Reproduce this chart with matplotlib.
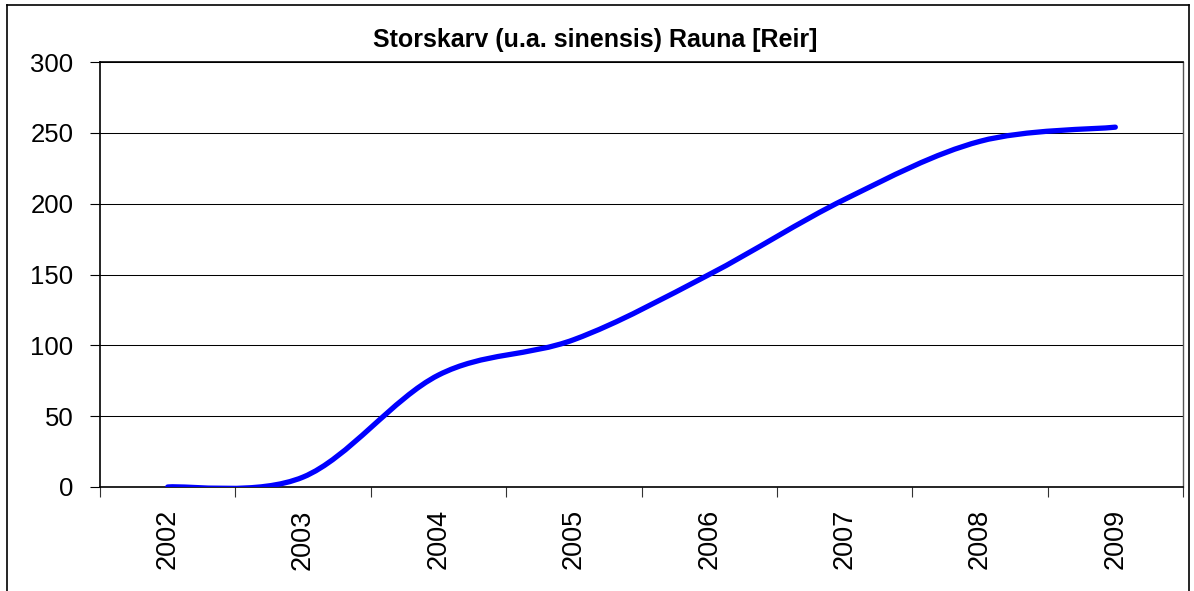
import matplotlib
matplotlib.use("Agg")
import matplotlib.pyplot as plt
from matplotlib.path import Path
from matplotlib.patches import PathPatch
from matplotlib.lines import Line2D
import numpy as np

years = ["2002", "2003", "2004", "2005", "2006", "2007", "2008", "2009"]
values = [0, 7, 79, 104, 150, 203, 244, 254]
yticks = [0, 50, 100, 150, 200, 250, 300]
title = "Storskarv (u.a. sinensis) Rauna [Reir]"

plt.rcParams['font.family'] = ['Liberation Sans', 'DejaVu Sans']

W, H = 1194, 591
fig = plt.figure(figsize=(W / 100, H / 100), dpi=100)
ax = fig.add_axes([100 / W, (H - 487) / H, 1083 / W, 425 / H])

# Excel-like smoothed line (Catmull-Rom as cubic Bezier)
xs = list(range(len(values)))
pts = list(zip(xs, values))
ext = [pts[0]] + pts + [pts[-1]]
verts = [pts[0]]
codes = [Path.MOVETO]
for i in range(len(pts) - 1):
    p0, p1, p2, p3 = ext[i], ext[i + 1], ext[i + 2], ext[i + 3]
    c1 = (p1[0] + (p2[0] - p0[0]) / 6, p1[1] + (p2[1] - p0[1]) / 6)
    c2 = (p2[0] - (p3[0] - p1[0]) / 6, p2[1] - (p3[1] - p1[1]) / 6)
    verts += [c1, c2, p2]
    codes += [Path.CURVE4] * 3
ax.add_patch(PathPatch(Path(verts, codes), facecolor='none', edgecolor='#0000FF',
                       lw=3.8, capstyle='round', joinstyle='round', zorder=3))

ax.set_xlim(-0.5, len(years) - 0.5)
ax.set_ylim(0, 300)

ax.set_yticks(yticks)
ax.set_yticklabels([str(v) for v in yticks], fontsize=18.5)
ax.tick_params(axis='y', direction='out', length=7.2, width=0.8, pad=12, colors='black')

bounds = np.arange(-0.5, len(years), 1.0)
ax.set_xticks(bounds)
ax.set_xticklabels([''] * len(bounds))
ax.set_xticks(xs, minor=True)
ax.set_xticklabels(years, minor=True, rotation=90, fontsize=19.5)
ax.tick_params(axis='x', which='major', direction='out', length=7.2, width=0.8, colors='#333333')
ax.tick_params(axis='x', which='minor', length=0, pad=16)

ax.grid(axis='y', which='major', color='black', lw=0.75)
ax.set_axisbelow(True)
for s in ['left', 'bottom', 'top']:
    ax.spines[s].set_color('black')
    ax.spines[s].set_linewidth(1.2)
ax.spines['right'].set_color('#555555')
ax.spines['right'].set_linewidth(1.0)

fig.text(595 / W, 1 - 40 / H, title, ha='center', va='center', fontsize=18, fontweight='bold')

# chart area border
fig.add_artist(Line2D([7 / W, 7 / W], [0, 1 - 5 / H], color='black', lw=1.2, transform=fig.transFigure))
fig.add_artist(Line2D([7 / W, 1189 / W], [1 - 5 / H, 1 - 5 / H], color='black', lw=1.2, transform=fig.transFigure))
fig.add_artist(Line2D([1189 / W, 1189 / W], [0, 1 - 5 / H], color='black', lw=1.2, transform=fig.transFigure))

fig.savefig("out.png", dpi=100)
